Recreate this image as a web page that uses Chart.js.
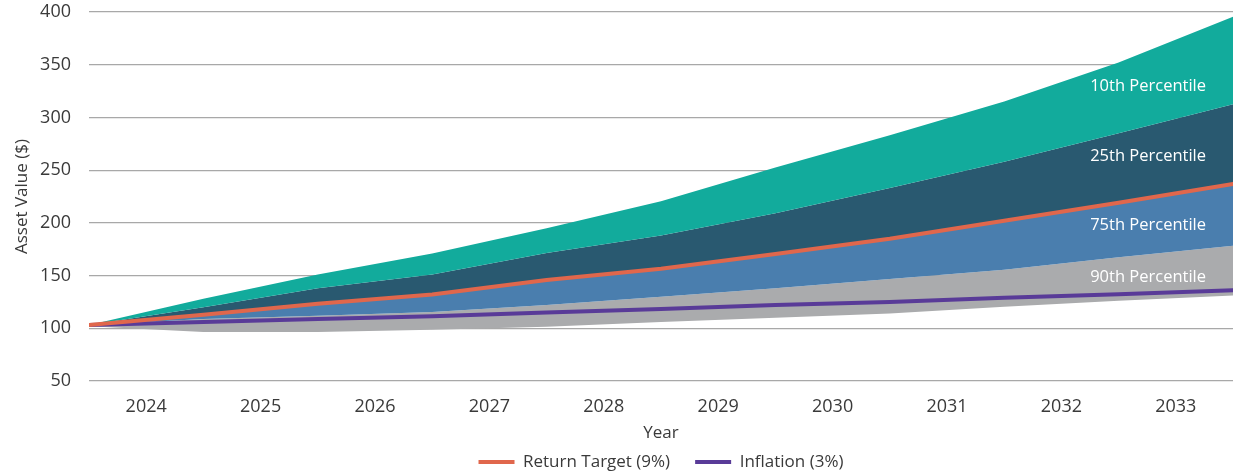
<!DOCTYPE html>
<html>
<head>
<meta charset="utf-8">
<script src="https://cdn.jsdelivr.net/npm/chart.js@4.4.1/dist/chart.umd.min.js"></script>
<style>
  html, body { margin: 0; padding: 0; background: #fff; }
  #wrap { width: 1233px; height: 474px; position: relative; }
</style>
</head>
<body>
<div id="wrap"><canvas id="grafico"></canvas></div>
<script>
// year tick labels and the period boundaries where values are read
const years = [2024, 2025, 2026, 2027, 2028, 2029, 2030, 2031, 2032, 2033];
const periods = [2023.5, 2024.5, 2025.5, 2026.5, 2027.5, 2028.5, 2029.5, 2030.5, 2031.5, 2032.5, 2033.5];

// band edges, top to bottom
const p10 = [103, 128, 151, 171, 195, 220.5, 252.5, 283, 315, 352, 395.5];
const p25 = [103, 120, 138, 151, 171.5, 188, 209, 233, 258, 285, 312.5];
const returnTarget = [103, 112.8, 123.2, 132, 145.8, 156.5, 170.5, 185, 202, 219, 237];
const p75 = [103, 108.7, 111.8, 115.5, 122, 130, 138, 146.7, 155.6, 167.3, 178.4];
const p90 = [102, 96.5, 96.5, 98.5, 101.5, 106, 110, 114, 120.5, 126, 131];
const inflation = [103, 106, 108.8, 111.5, 115, 118.3, 122, 125, 129, 132.3, 136];

const bandNames = ['10th Percentile', '25th Percentile', '75th Percentile', '90th Percentile'];

const pts = arr => arr.map((v, i) => ({ x: periods[i], y: v }));

const textColor = '#3a3a3a';
const fontFamily = '"Open Sans", "Noto Sans", sans-serif';

// white labels inside the bands
const bandLabelPlugin = {
    id: 'bandLabels',
    afterDatasetsDraw(chart, args, opts) {
        const { ctx, chartArea, scales } = chart;
        ctx.save();
        ctx.fillStyle = '#ffffff';
        ctx.font = '16.5px ' + fontFamily;
        ctx.textAlign = 'right';
        ctx.textBaseline = 'middle';
        bandNames.forEach((name, i) => {
            ctx.fillText(name, chartArea.right - 27, scales.y.getPixelForValue(opts.at[i]));
        });
        ctx.restore();
    }
};

const band = (label, data, color) => ({
    label: label,
    data: pts(data),
    backgroundColor: color,
    borderColor: 'transparent',
    borderWidth: 0,
    pointRadius: 0,
    fill: '+1'
});

const ctx = document.getElementById('grafico').getContext('2d');

const grafico = new Chart(ctx, {
    type: 'line',
    data: {
        datasets: [
            {
                label: 'Return Target (9%)',
                data: pts(returnTarget),
                borderColor: '#e0674c',
                borderWidth: 4,
                borderCapStyle: 'round',
                pointRadius: 0,
                fill: false
            },
            {
                label: 'Inflation (3%)',
                data: pts(inflation),
                borderColor: '#593b98',
                borderWidth: 4,
                borderCapStyle: 'round',
                pointRadius: 0,
                fill: false
            },
            band('10th Percentile', p10, '#12ab9c'),
            band('25th Percentile', p25, '#295970'),
            band('75th Percentile', returnTarget, '#4a7eae'),
            band('90th Percentile', p75, '#aaabad'),
            {
                label: 'floor',
                data: pts(p90),
                borderColor: 'transparent',
                borderWidth: 0,
                pointRadius: 0,
                fill: false
            }
        ]
    },
    options: {
        responsive: true,
        maintainAspectRatio: false,
        animation: false,
        layout: { padding: { top: 12, right: 0, bottom: -6.5, left: 0 } },
        elements: { line: { tension: 0 } },
        scales: {
            x: {
                type: 'linear',
                min: 2023.5,
                max: 2033.5,
                afterBuildTicks: axis => { axis.ticks = years.map(v => ({ value: v })); },
                afterFit: s => { s.height = 47.5; },
                grid: { display: false, drawTicks: false },
                border: { display: false },
                ticks: {
                    color: textColor,
                    font: { family: fontFamily, size: 18 },
                    padding: 15,
                    maxRotation: 0,
                    callback: v => String(v)
                },
                title: {
                    display: true,
                    text: 'Year',
                    color: textColor,
                    font: { family: fontFamily, size: 17 },
                    padding: { top: 5, bottom: -15 }
                }
            },
            y: {
                min: 50,
                max: 400,
                afterFit: s => { s.width = 89; },
                grid: { color: '#a8a8a8', lineWidth: 1.2, drawTicks: true, tickLength: 18, tickColor: 'transparent' },
                border: { display: false },
                ticks: {
                    stepSize: 50,
                    color: textColor,
                    font: { family: fontFamily, size: 18 },
                    padding: 0
                },
                title: {
                    display: true,
                    text: 'Asset Value ($)',
                    color: textColor,
                    font: { family: fontFamily, size: 17 },
                    padding: { top: 12, bottom: 4 }
                }
            }
        },
        plugins: {
            legend: {
                position: 'bottom',
                fullSize: false,
                labels: {
                    filter: item => item.datasetIndex < 2,
                    usePointStyle: true,
                    pointStyle: 'line',
                    pointStyleWidth: 36,
                    color: textColor,
                    font: { family: fontFamily, size: 17 },
                    padding: 25
                }
            },
            tooltip: { enabled: false },
            bandLabels: { at: [330, 263, 198, 148] }
        }
    },
    plugins: [bandLabelPlugin]
});
</script>
</body>
</html>
